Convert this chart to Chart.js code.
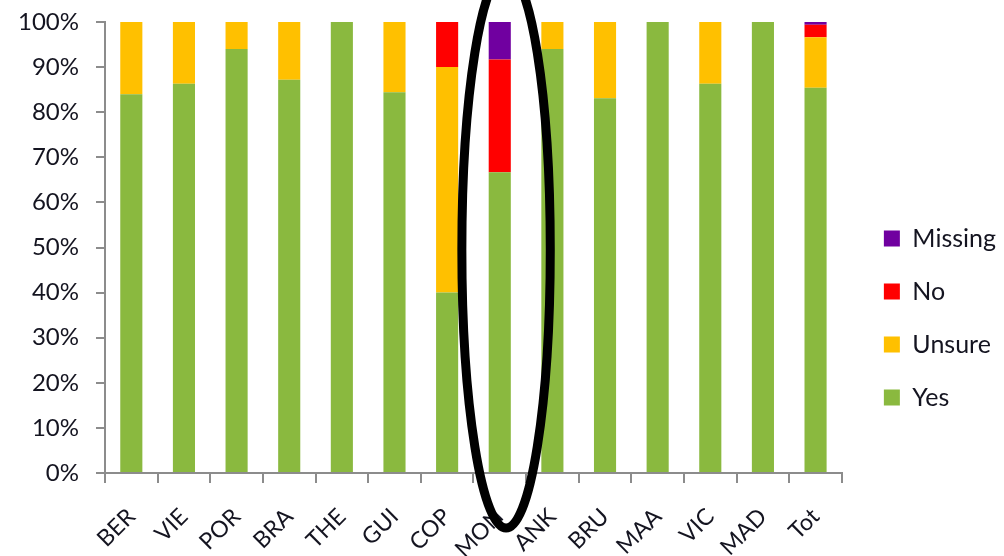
<!DOCTYPE html>
<html>
<head>
<meta charset="utf-8">
<script src="https://cdn.jsdelivr.net/npm/chart.js@4"></script>
<style>
  html, body { margin: 0; padding: 0; background: #fff; }
  #wrap { width: 1004px; height: 556px; }
</style>
</head>
<body>
<div id="wrap"><canvas id="barChart" width="1004" height="556"></canvas></div>
<script>
// categories and shares (%)
var sites = ["BER", "VIE", "POR", "BRA", "THE", "GUI", "COP", "MON", "ANK", "BRU", "MAA", "VIC", "MAD", "Tot"];
var yes     = [84, 86.3, 94, 87.2, 100, 84.4, 40, 66.7, 94, 83.1, 100, 86.3, 100, 85.4];
var unsure  = [16, 13.7, 6, 12.8, 0, 15.6, 50, 0, 6, 16.9, 0, 13.7, 0, 11.2];
var no      = [0, 0, 0, 0, 0, 0, 10, 25, 0, 0, 0, 0, 0, 2.8];
var missing = [0, 0, 0, 0, 0, 0, 0, 8.3, 0, 0, 0, 0, 0, 0.6];
var yTicks  = [0, 10, 20, 30, 40, 50, 60, 70, 80, 90, 100];
var circled = "MON";

var font = "Lato, 'Open Sans', sans-serif";
var axisGrey = "#8c8c8c";
var textCol = "#141420";

// black ellipse drawn around the circled column
var ellipsePlugin = {
  id: "ellipse",
  afterLayout: function (chart) {
    // nudge the legend a little right and down, like the original
    var lg = chart.legend;
    if (lg) {
      lg.left += 14; lg.right += 14;
      lg.top += 29; lg.bottom += 29;
    }
  },
  afterDraw: function (chart) {
    var x = chart.scales.x, y = chart.scales.y;
    var idx = sites.indexOf(circled);
    var step = x.getPixelForValue(1) - x.getPixelForValue(0);
    var cx = x.getPixelForValue(idx) + step * 0.12;
    var cy = y.getPixelForValue(49.5);
    var ctx = chart.ctx;
    ctx.save();
    ctx.beginPath();
    ctx.ellipse(cx, cy, step * 0.84, (y.bottom - y.top) * 0.617, 0, 0, Math.PI * 2);
    ctx.lineWidth = 9;
    ctx.strokeStyle = "#000";
    ctx.stroke();
    ctx.restore();
  }
};

new Chart(document.getElementById("barChart"), {
  type: "bar",
  data: {
    labels: sites,
    datasets: [
      { label: "Yes", data: yes, backgroundColor: "#8ab93f" },
      { label: "Unsure", data: unsure, backgroundColor: "#ffc000" },
      { label: "No", data: no, backgroundColor: "#ff0000" },
      { label: "Missing", data: missing, backgroundColor: "#7000a0" }
    ]
  },
  options: {
    responsive: false,
    animation: false,
    layout: { padding: { top: 22, right: 12, left: 0, bottom: 0 } },
    datasets: { bar: { categoryPercentage: 1, barPercentage: 0.42 } },
    plugins: {
      tooltip: { enabled: false },
      legend: {
        position: "right",
        reverse: true,
        labels: {
          font: { family: font, size: 25 },
          color: textCol,
          boxWidth: 16,
          boxHeight: 16,
          padding: 28
        }
      }
    },
    scales: {
      x: {
        stacked: true,
        afterFit: function (s) { s.height = 83; },
        border: { color: axisGrey, width: 2 },
        grid: { offset: true, drawOnChartArea: false, color: axisGrey, lineWidth: 2, tickLength: 10 },
        ticks: {
          font: { family: font, size: 23 },
          color: textCol,
          minRotation: 45,
          maxRotation: 45,
          padding: 20
        }
      },
      y: {
        stacked: true,
        min: 0,
        max: 100,
        afterFit: function (s) { s.width = 105; s.paddingTop = 0; s.paddingBottom = 0; },
        afterBuildTicks: function (s) { s.ticks = yTicks.map(function (v) { return { value: v }; }); },
        border: { color: axisGrey, width: 2 },
        grid: { drawOnChartArea: false, color: axisGrey, lineWidth: 2, tickLength: 9 },
        ticks: {
          font: { family: font, size: 24 },
          color: textCol,
          padding: 17,
          callback: function (v) { return v + "%"; }
        }
      }
    }
  },
  plugins: [ellipsePlugin]
});
</script>
</body>
</html>
